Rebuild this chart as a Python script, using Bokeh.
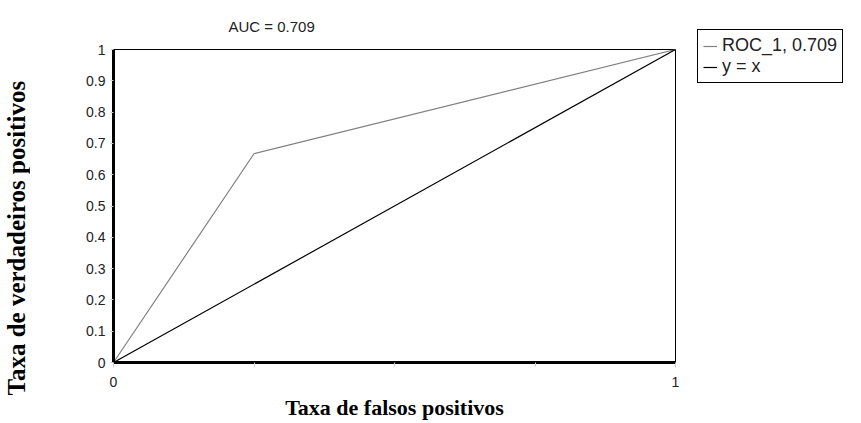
from bokeh.plotting import figure
from bokeh.layouts import row, column
from bokeh.models import (Range1d, FixedTicker, CustomJSTickFormatter, Legend, LegendItem, Title)
from bokeh.embed import file_html
from bokeh.resources import INLINE

# data
roc_fpr = [0.0, 0.25, 1.0]
roc_tpr = [0.0, 0.667, 1.0]
diag_x = [0.0, 1.0]
diag_y = [0.0, 1.0]
x_ticks = [0, 1]
x_minor_ticks = [0.25, 0.5, 0.75]
y_ticks = [0, 0.1, 0.2, 0.3, 0.4, 0.5, 0.6, 0.7, 0.8, 0.9, 1]
title_text = "AUC = 0.709"
roc_label = "ROC_1, 0.709"
diag_label = "y = x"
x_label = "Taxa de falsos positivos"
y_label = "Taxa de verdadeiros positivos"

ROC_COLOR = "#808080"
DIAG_COLOR = "black"
STRIP_W = 30
LEGEND_W = 166
H = 423

# --- strip on the left holding the y-axis title ---
s = figure(width=STRIP_W, height=H, output_backend="svg", toolbar_location=None,
           x_axis_location=None, y_axis_location=None, title_location=None,
           x_range=Range1d(0, 1), y_range=Range1d(0, 1),
           min_border_left=0, min_border_right=0, min_border_top=48, min_border_bottom=61)
s.grid.visible = False
s.outline_line_color = None
s.border_fill_color = "white"
s.background_fill_color = "white"
ytitle = Title(text=y_label, align="left", offset=-33, text_font="Liberation Serif",
               text_font_style="bold", text_font_size="25px", standoff=0,
               text_color="black")
s.add_layout(ytitle, "left")

# --- main chart ---
p = figure(width=861 - STRIP_W - LEGEND_W, height=H, output_backend="svg", toolbar_location=None,
           x_range=Range1d(0, 1), y_range=Range1d(0, 1),
           min_border_left=113 - STRIP_W, min_border_right=20, min_border_top=48, min_border_bottom=61)

p.title.text = title_text
p.title.align = "left"
p.title.offset = 115
p.title.text_font = "Liberation Sans"
p.title.text_font_size = "15px"
p.title.text_font_style = "normal"
p.title.text_color = "#222222"
p.title.standoff = 30

p.grid.visible = False
p.outline_line_color = "black"
p.outline_line_width = 1
p.background_fill_color = "white"
p.border_fill_color = "white"

p.line(roc_fpr, roc_tpr, line_color=ROC_COLOR, line_width=1.2)
p.line(diag_x, diag_y, line_color=DIAG_COLOR, line_width=1.2)

xa = p.xaxis[0]
xa.ticker = FixedTicker(ticks=x_ticks, minor_ticks=x_minor_ticks)
xa.axis_line_width = 3
xa.axis_line_color = "black"
xa.major_tick_in = 0
xa.major_tick_out = 5
xa.major_tick_line_color = "#cccccc"
xa.minor_tick_in = 0
xa.minor_tick_out = 4
xa.minor_tick_line_color = "#cccccc"
xa.major_label_text_font = "Liberation Sans"
xa.major_label_text_font_size = "14px"
xa.major_label_text_color = "#222222"
xa.major_label_standoff = 9
xa.axis_label = x_label
xa.axis_label_text_font = "Liberation Serif"
xa.axis_label_text_font_style = "bold"
xa.axis_label_text_font_size = "22px"
xa.axis_label_text_color = "black"
xa.axis_label_standoff = 5

ya = p.yaxis[0]
ya.ticker = FixedTicker(ticks=y_ticks, minor_ticks=[])
ya.formatter = CustomJSTickFormatter(code="return (Math.round(tick*10)/10).toString();")
ya.axis_line_width = 3
ya.axis_line_color = "black"
ya.major_tick_in = 0
ya.major_tick_out = 3
ya.major_tick_line_color = "#cccccc"
ya.minor_tick_line_color = None
ya.major_label_text_font = "Liberation Sans"
ya.major_label_text_font_size = "14px"
ya.major_label_text_color = "#222222"
ya.major_label_standoff = 5

# --- legend canvas on the right (series drawn out of view, legend only) ---
q = figure(width=LEGEND_W, height=H, output_backend="svg", toolbar_location=None,
           x_axis_location=None, y_axis_location=None, title_location=None,
           x_range=Range1d(10, 11), y_range=Range1d(10, 11),
           min_border_left=2, min_border_right=0, min_border_top=29, min_border_bottom=0)
q.grid.visible = False
q.outline_line_color = None
q.border_fill_color = "white"
q.background_fill_color = "white"
lr1 = q.line(roc_fpr, roc_tpr, line_color=ROC_COLOR, line_width=1.2)
lr2 = q.line(diag_x, diag_y, line_color=DIAG_COLOR, line_width=1.2)

legend = Legend(items=[LegendItem(label=roc_label, renderers=[lr1]),
                       LegendItem(label=diag_label, renderers=[lr2])],
                location="top_left")
legend.border_line_color = "black"
legend.border_line_alpha = 1
legend.border_line_width = 1
legend.background_fill_color = "white"
legend.background_fill_alpha = 1
legend.label_text_font = "Liberation Sans"
legend.label_text_font_size = "18px"
legend.label_text_color = "#222222"
legend.glyph_width = 14
legend.glyph_height = 14
legend.label_height = 14
legend.label_standoff = 5
legend.spacing = 0
legend.padding = 5
legend.margin = 0
q.add_layout(legend, "center")

layout = row(s, p, column(q, spacing=0), spacing=0)
open("out.html", "w").write(file_html(layout, INLINE))
